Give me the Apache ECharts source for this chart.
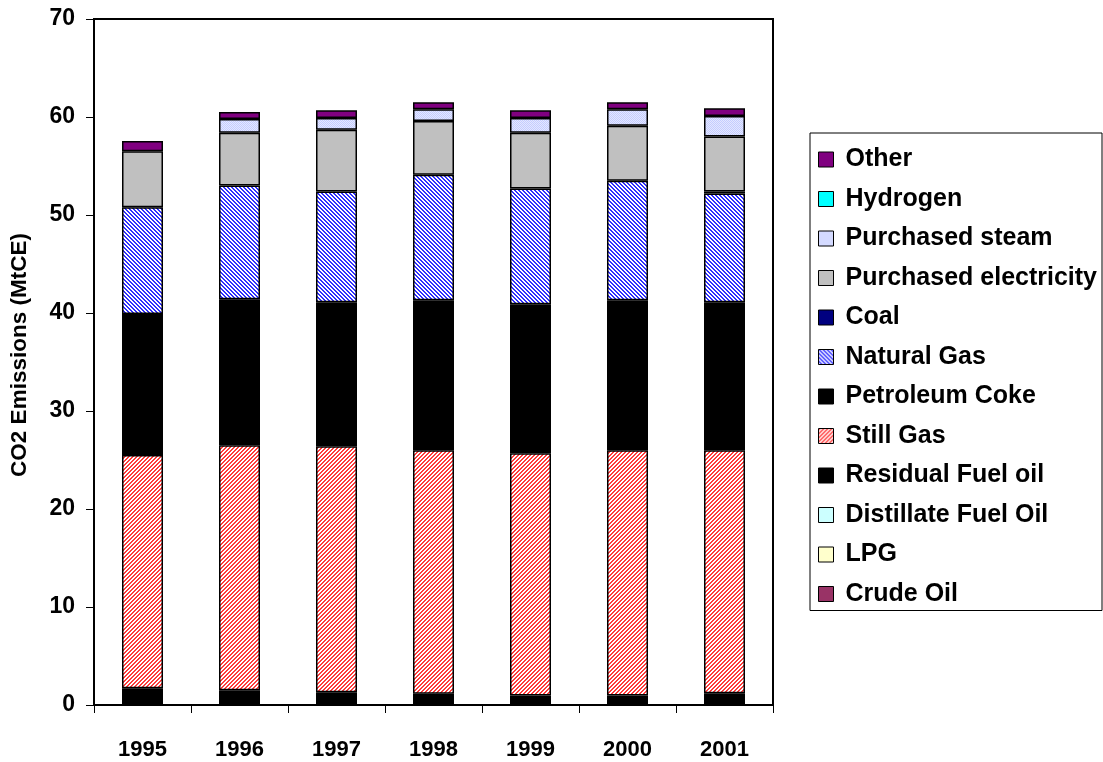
<!DOCTYPE html>
<html>
<head>
<meta charset="utf-8">
<script src="https://cdn.jsdelivr.net/npm/echarts@6/dist/echarts.min.js"></script>
<style>
  html, body { margin: 0; padding: 0; background: #fff; }
  #chart { width: 1103px; height: 762px; }
</style>
</head>
<body>
<div id="chart"></div>
<script>
// Refinery CO2 emissions by fuel, MtCE
const years = ['1995', '1996', '1997', '1998', '1999', '2000', '2001'];

const crudeOil        = [0, 0, 0, 0, 0, 0, 0];
const lpg             = [0.2, 0.2, 0, 0, 0, 0, 0.2];
const distillateFuel  = [0, 0, 0, 0, 0, 0, 0];
const residualFuel    = [1.5, 1.3, 1.3, 1.15, 0.97, 0.97, 1.0];
const stillGas        = [23.8, 25.0, 25.1, 24.85, 24.73, 25.03, 24.8];
const petroleumCoke   = [14.4, 14.9, 14.7, 15.3, 15.2, 15.3, 15.1];
const naturalGas      = [10.9, 11.6, 11.3, 12.8, 11.8, 12.2, 11.1];
const coal            = [0, 0, 0, 0, 0, 0, 0.2];
const purchasedElec   = [5.7, 5.4, 6.3, 5.5, 5.7, 5.6, 5.6];
const purchasedSteam  = [0, 1.4, 1.2, 1.2, 1.5, 1.7, 2.1];
const hydrogen        = [0, 0, 0, 0, 0, 0, 0];
const other           = [1.05, 0.7, 0.8, 0.7, 0.8, 0.7, 0.8];

const yTicks = { min: 0, max: 70, interval: 10 };

// small repeating tiles used as hatch fills
function tile(size, paint) {
  const c = document.createElement('canvas');
  c.width = size; c.height = size;
  const ctx = c.getContext('2d');
  for (let x = 0; x < size; x++) {
    for (let y = 0; y < size; y++) {
      ctx.fillStyle = paint(x, y);
      ctx.fillRect(x, y, 1, 1);
    }
  }
  return { image: c, repeat: 'repeat' };
}
const stillGasFill = tile(4, (x, y) => ((x + y) % 4 < 2 ? '#ff3b3b' : '#ffffff'));
const naturalGasFill = tile(4, (x, y) => (((x - y) % 4 + 4) % 4 < 2 ? '#3030ff' : '#ffffff'));
const steamFill = tile(2, (x, y) => ((x + y) % 2 === 0 ? '#c4ccff' : '#e4e8ff'));

const seriesDefs = [
  { name: 'Crude Oil', data: crudeOil, color: '#993366' },
  { name: 'LPG', data: lpg, color: '#ffffcc' },
  { name: 'Distillate Fuel Oil', data: distillateFuel, color: '#ccffff' },
  { name: 'Residual Fuel oil', data: residualFuel, color: '#000000' },
  { name: 'Still Gas', data: stillGas, color: stillGasFill },
  { name: 'Petroleum Coke', data: petroleumCoke, color: '#000000' },
  { name: 'Natural Gas', data: naturalGas, color: naturalGasFill },
  { name: 'Coal', data: coal, color: '#000080' },
  { name: 'Purchased electricity', data: purchasedElec, color: '#c0c0c0' },
  { name: 'Purchased steam', data: purchasedSteam, color: steamFill },
  { name: 'Hydrogen', data: hydrogen, color: '#00ffff' },
  { name: 'Other', data: other, color: '#800080' }
];

const font = "'Liberation Sans', Arial, sans-serif";

const chart = echarts.init(document.getElementById('chart'), null, { renderer: 'canvas' });
chart.setOption({
  animation: false,
  backgroundColor: '#ffffff',
  textStyle: { fontFamily: font, fontWeight: 'bold', color: '#000' },
  grid: {
    left: 93, right: 330, top: 19, bottom: 57,
    show: true, borderColor: '#000', borderWidth: 2, backgroundColor: 'transparent'
  },
  legend: {
    orient: 'vertical',
    left: 810, top: 133,
    padding: [14, 5, 4, 8],
    itemGap: 14.5,
    itemWidth: 15, itemHeight: 15,
    icon: 'rect',
    borderColor: '#000', borderWidth: 1,
    backgroundColor: '#fff',
    textStyle: { fontFamily: font, fontWeight: 'bold', fontSize: 25, color: '#000', padding: [0, 0, 0, 7] },
    itemStyle: { borderColor: '#000', borderWidth: 1 },
    data: seriesDefs.map(s => s.name).reverse()
  },
  xAxis: {
    type: 'category',
    data: years,
    axisLine: { lineStyle: { color: '#000', width: 2 } },
    axisTick: { show: true, length: 8, lineStyle: { color: '#000', width: 1 } },
    axisLabel: { fontFamily: font, fontWeight: 'bold', fontSize: 22, color: '#000', margin: 34 }
  },
  yAxis: {
    type: 'value',
    min: yTicks.min, max: yTicks.max, interval: yTicks.interval,
    name: 'CO2 Emissions (MtCE)',
    nameLocation: 'middle',
    nameGap: 63,
    nameRotate: 90,
    nameTextStyle: { fontFamily: font, fontWeight: 'bold', fontSize: 22.5, color: '#000', padding: [0, 0, 0, 14] },
    splitLine: { show: false },
    axisLine: { show: true, lineStyle: { color: '#000', width: 2 } },
    axisTick: { show: true, length: 8, lineStyle: { color: '#000', width: 1 } },
    axisLabel: { fontFamily: font, fontWeight: 'bold', fontSize: 23, color: '#000', margin: 19 }
  },
  series: seriesDefs.map(s => ({
    name: s.name,
    type: 'bar',
    stack: 'total',
    barWidth: 41,
    data: s.data.map(v => (v === 0 ? null : v)),
    itemStyle: { color: s.color, borderColor: '#000', borderWidth: 1.5 },
    emphasis: { disabled: true }
  }))
});
</script>
</body>
</html>
